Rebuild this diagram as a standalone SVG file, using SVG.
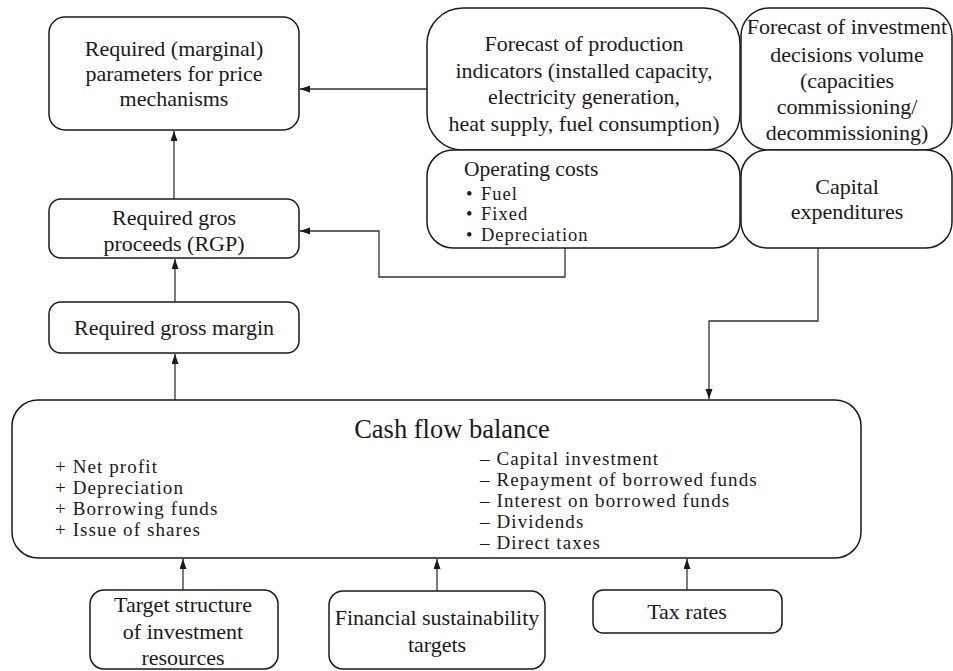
<svg xmlns="http://www.w3.org/2000/svg" width="953" height="671" viewBox="0 0 953 671" font-family="'Liberation Serif', 'DejaVu Serif', serif">
<defs>
<marker id="ah" markerWidth="11" markerHeight="8" refX="10" refY="3.5" orient="auto" markerUnits="userSpaceOnUse">
<path d="M0,0 L10,3.5 L0,7 z" fill="#1a1a1a"/>
</marker>
</defs>
<style>
text{font-family:'Liberation Serif','DejaVu Serif',serif;font-size:22px;fill:#1a1a1a}
.c{text-anchor:middle}
.box{fill:#fff;stroke:#1a1a1a;stroke-width:1.5}
.ln{fill:none;stroke:#333;stroke-width:1.3;marker-end:url(#ah)}
.big{font-size:26.5px}
.l{font-size:19px;letter-spacing:1.1px}
.o{font-size:21.5px}
.b{font-size:18.5px;letter-spacing:1px}
</style>
<rect width="953" height="671" fill="#fff"/>
<g id="connectors">
<path class="ln" d="M427,89 H300"/>
<path class="ln" d="M174,199 V131"/>
<path class="ln" d="M175,302 V259"/>
<path class="ln" d="M175,400 V354"/>
<path class="ln" d="M565,248 V277 H379 V231 H300"/>
<path class="ln" d="M818,248 V321 H709 V399"/>
<path class="ln" d="M183,590 V559"/>
<path class="ln" d="M437,591 V559"/>
<path class="ln" d="M687,590 V559"/>
</g>
<g id="price">
<rect class="box" x="49" y="17" width="250" height="113" rx="16"/>
<text class="c" x="174" y="56">Required (marginal)</text>
<text class="c" x="174" y="81">parameters for price</text>
<text class="c" x="174" y="106">mechanisms</text>
</g>
<g id="prod">
<rect class="box" x="427" y="8" width="313" height="142" rx="36"/>
<text class="c" x="584" y="51">Forecast of production</text>
<text class="c" x="584" y="78">indicators (installed capacity,</text>
<text class="c" x="584" y="104">electricity generation,</text>
<text class="c" x="584" y="131">heat supply, fuel consumption)</text>
</g>
<g id="invest">
<rect class="box" x="741" y="8" width="211" height="142" rx="28"/>
<text class="c" x="847" y="34">Forecast of investment</text>
<text class="c" x="847" y="62">decisions volume</text>
<text class="c" x="847" y="88">(capacities</text>
<text class="c" x="847" y="114">commissioning/</text>
<text class="c" x="847" y="140">decommissioning)</text>
</g>
<g id="opcost">
<rect class="box" x="427" y="150" width="313" height="98" rx="26"/>
<text class="o" x="464" y="176">Operating costs</text>
<text class="b" x="466" y="199.5">•</text>
<text class="b" x="481" y="199.5">Fuel</text>
<text class="b" x="466" y="220">•</text>
<text class="b" x="481" y="220">Fixed</text>
<text class="b" x="466" y="241">•</text>
<text class="b" x="481" y="241">Depreciation</text>
</g>
<g id="capex">
<rect class="box" x="741" y="150" width="211" height="98" rx="26"/>
<text class="c" x="847" y="194">Capital</text>
<text class="c" x="847" y="219">expenditures</text>
</g>
<g id="rgp">
<rect class="box" x="49" y="199" width="250" height="59" rx="12"/>
<text class="c" x="174" y="225">Required gros</text>
<text class="c" x="174" y="251">proceeds (RGP)</text>
</g>
<g id="margin">
<rect class="box" x="49" y="302" width="250" height="51" rx="12"/>
<text class="c" x="174" y="335">Required gross margin</text>
</g>
<g id="cashflow">
<rect class="box" x="12" y="400" width="849" height="158" rx="26"/>
<text class="c big" x="452" y="438">Cash flow balance</text>
<text class="l" x="55" y="473">+ Net profit</text>
<text class="l" x="55" y="494">+ Depreciation</text>
<text class="l" x="55" y="515">+ Borrowing funds</text>
<text class="l" x="55" y="536">+ Issue of shares</text>
<text class="l" x="480" y="465">– Capital investment</text>
<text class="l" x="480" y="486">– Repayment of borrowed funds</text>
<text class="l" x="480" y="507">– Interest on borrowed funds</text>
<text class="l" x="480" y="528">– Dividends</text>
<text class="l" x="480" y="549">– Direct taxes</text>
</g>
<g id="target">
<rect class="box" x="90" y="590" width="188" height="79" rx="14"/>
<text class="c" x="183" y="612">Target structure</text>
<text class="c" x="183" y="639">of investment</text>
<text class="c" x="183" y="665">resources</text>
</g>
<g id="finsust">
<rect class="box" x="329" y="591" width="216" height="78" rx="14"/>
<text class="c" x="437" y="625">Financial sustainability</text>
<text class="c" x="437" y="652">targets</text>
</g>
<g id="tax">
<rect class="box" x="593" y="590" width="189" height="43" rx="10"/>
<text class="c" x="687" y="619">Tax rates</text>
</g>
</svg>
